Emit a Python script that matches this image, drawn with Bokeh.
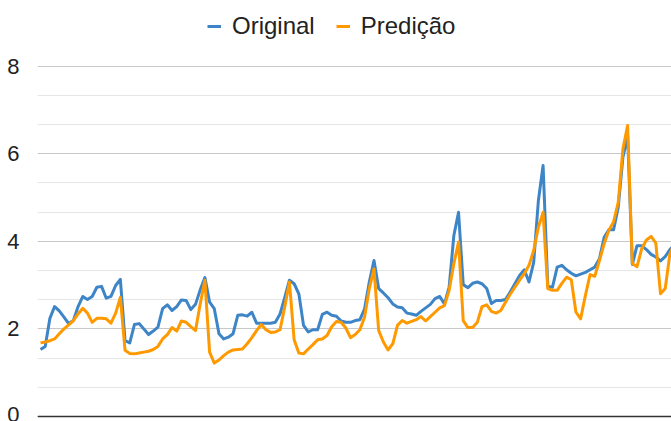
from bokeh.plotting import figure
from bokeh.models import ColumnDataSource, FixedTicker, Legend, LegendItem, Span
from bokeh.embed import file_html
from bokeh.resources import INLINE

original = [1.53, 1.60, 2.24, 2.51, 2.41, 2.27, 2.12, 2.19, 2.51, 2.74, 2.67, 2.74, 2.95, 2.97, 2.70, 2.74, 2.99, 3.13,
            1.73, 1.68, 2.10, 2.12, 2.00, 1.87, 1.95, 2.04, 2.46, 2.55, 2.42, 2.51, 2.66, 2.65, 2.44, 2.56, 2.89, 3.17,
            2.61, 2.46, 1.89, 1.77, 1.81, 1.89, 2.31, 2.32, 2.29, 2.38, 2.13, 2.13, 2.13, 2.13, 2.15, 2.34, 2.72, 3.11,
            3.03, 2.80, 2.08, 1.93, 1.98, 1.98, 2.33, 2.38, 2.31, 2.29, 2.18, 2.15, 2.15, 2.19, 2.21, 2.46, 3.07, 3.56,
            2.92, 2.82, 2.71, 2.57, 2.50, 2.48, 2.36, 2.34, 2.31, 2.40, 2.48, 2.56, 2.69, 2.74, 2.57, 2.95, 4.13, 4.66,
            3.01, 2.94, 3.04, 3.07, 3.03, 2.92, 2.58, 2.65, 2.65, 2.67, 2.84, 3.03, 3.22, 3.35, 3.07, 3.52, 4.93, 5.73,
            2.97, 2.95, 3.41, 3.45, 3.35, 3.27, 3.21, 3.25, 3.29, 3.35, 3.41, 3.60, 4.09, 4.26, 4.26, 4.78, 5.92, 6.40,
            3.47, 3.90, 3.90, 3.81, 3.70, 3.64, 3.55, 3.65, 3.81, 3.92]

predicao = [1.68, 1.70, 1.73, 1.77, 1.89, 2.00, 2.09, 2.19, 2.34, 2.47, 2.36, 2.15, 2.24, 2.24, 2.23, 2.13, 2.36, 2.72,
            1.51, 1.44, 1.43, 1.45, 1.47, 1.49, 1.53, 1.60, 1.77, 1.87, 2.03, 1.95, 2.18, 2.15, 2.05, 1.96, 2.57, 3.11,
            1.47, 1.22, 1.29, 1.39, 1.47, 1.52, 1.53, 1.54, 1.66, 1.80, 1.96, 2.10, 1.98, 1.92, 1.93, 1.98, 2.50, 3.07,
            1.75, 1.45, 1.43, 1.54, 1.64, 1.75, 1.77, 1.85, 2.05, 2.17, 2.15, 2.02, 1.80, 1.87, 1.98, 2.27, 2.92, 3.37,
            1.96, 1.70, 1.52, 1.66, 2.08, 2.19, 2.13, 2.17, 2.21, 2.28, 2.18, 2.28, 2.38, 2.48, 2.53, 2.88, 3.49, 3.98,
            2.19, 2.03, 2.03, 2.15, 2.51, 2.55, 2.40, 2.36, 2.42, 2.61, 2.79, 2.95, 3.11, 3.26, 3.45, 3.79, 4.32, 4.66,
            2.92, 2.88, 2.88, 3.04, 3.18, 3.12, 2.38, 2.23, 2.76, 3.24, 3.20, 3.56, 3.94, 4.25, 4.44, 4.89, 6.11, 6.64,
            3.49, 3.42, 3.83, 4.03, 4.11, 3.96, 2.80, 2.92, 3.71, 3.95]

y_ticks = [0, 2, 4, 6, 8]
y_minor = [0.667, 1.333, 2.667, 3.333, 4.667, 5.333, 6.667, 7.333]

idx = list(range(len(original)))
source = ColumnDataSource(dict(x=idx, original=original, predicao=predicao))

p = figure(width=671, height=421, output_backend="svg", toolbar_location=None,
           x_range=(-0.64, 134.34), y_range=(-0.114, 9.495),
           min_border_left=37, min_border_right=0, min_border_top=0, min_border_bottom=0)
p.outline_line_color = None
p.background_fill_color = "white"
p.border_fill_color = "white"

p.xaxis.visible = False
p.xgrid.visible = False

p.yaxis.ticker = FixedTicker(ticks=y_ticks, minor_ticks=y_minor)
p.yaxis.axis_line_color = None
p.yaxis.major_tick_line_color = None
p.yaxis.minor_tick_line_color = None
p.yaxis.major_label_text_font = "Liberation Sans"
p.yaxis.major_label_text_font_size = "22px"
p.yaxis.major_label_text_color = "#222222"
p.yaxis.major_label_standoff = 12

p.ygrid.grid_line_color = "#c8c8c8"
p.ygrid.grid_line_width = 1
p.ygrid.minor_grid_line_color = "#e6e6e6"
p.ygrid.minor_grid_line_width = 1

p.add_layout(Span(location=0, dimension="width", line_color="#333333", line_width=1.5))

r1 = p.line("x", "original", source=source, line_color="#3d85c6", line_width=3, line_join="round")
r2 = p.line("x", "predicao", source=source, line_color="#ff9900", line_width=3, line_join="round")

legend = Legend(items=[LegendItem(label="Original", renderers=[r1]),
                       LegendItem(label="Predição", renderers=[r2])],
                orientation="horizontal", location=(170, 381))
legend.label_text_font = "Liberation Sans"
legend.label_text_font_size = "24px"
legend.label_text_color = "#222222"
legend.glyph_width = 14
legend.label_standoff = 11
legend.spacing = 21
legend.padding = 0
legend.margin = 0
legend.border_line_color = None
legend.background_fill_alpha = 0
p.add_layout(legend, "center")

open("out.html", "w").write(file_html(p, INLINE))
